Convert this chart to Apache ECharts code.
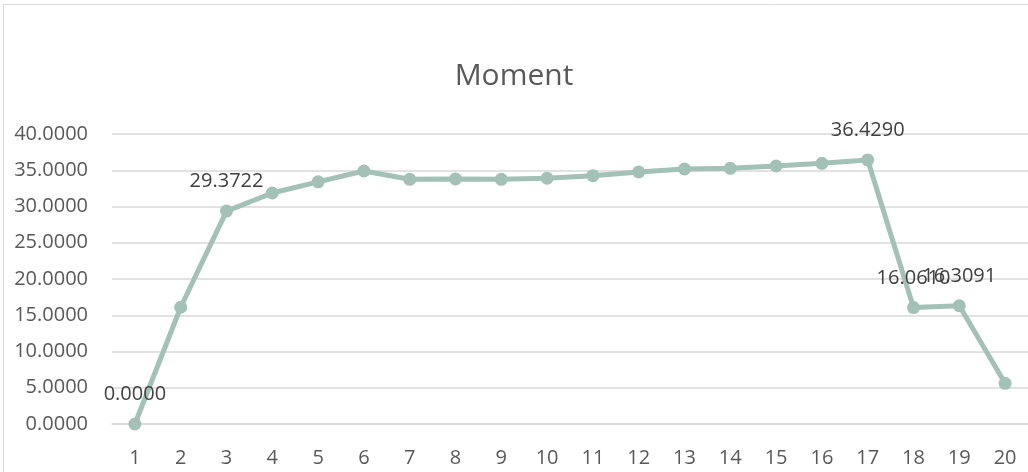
<!DOCTYPE html>
<html>
<head>
<meta charset="utf-8">
<script src="https://cdn.jsdelivr.net/npm/echarts@6/dist/echarts.min.js"></script>
<style>
  html, body { margin: 0; padding: 0; background: #fff; }
  #main { width: 1028px; height: 472px; }
</style>
</head>
<body>
<div id="main"></div>
<script>
var categories = ['1','2','3','4','5','6','7','8','9','10','11','12','13','14','15','16','17','18','19','20'];
var moment = [0.0000, 16.10, 29.3722, 31.86, 33.40, 34.90, 33.75, 33.80, 33.75, 33.90, 34.25, 34.76, 35.17, 35.26, 35.59, 35.95, 36.4290, 16.0610, 16.3091, 5.61];
var labelled = [0, 2, 16, 17, 18];
var yTicks = [0, 5, 10, 15, 20, 25, 30, 35, 40];

var myChart = echarts.init(document.getElementById('main'));

var seriesData = []
for (let i = 0; i < moment.length; i++) {
	seriesData.push({
		value: moment[i],
		label: { show: labelled.indexOf(i) >= 0 }
	})
}

var option = {
	backgroundColor: '#fff',
	animation: false,
	title: {
		text: 'Moment',
		left: 'center',
		top: 56,
		textStyle: {
			color: '#595959',
			fontFamily: 'Open Sans',
			fontSize: 30,
			fontWeight: 'normal'
		}
	},
	graphic: [{
		type: 'rect',
		shape: { x: 3.5, y: 4.5, width: 1100, height: 600 },
		style: { fill: 'none', stroke: '#d9d9d9', lineWidth: 1 },
		silent: true
	}],
	grid: {
		left: 112,
		right: -6,
		top: 134,
		bottom: 48
	},
	xAxis: {
		type: 'category',
		data: categories,
		boundaryGap: true,
		axisLine: { show: true, lineStyle: { color: '#d9d9d9', width: 1.5 } },
		axisTick: { show: false },
		axisLabel: {
			color: '#595959',
			fontFamily: 'Open Sans',
			fontSize: 20,
			margin: 24
		}
	},
	yAxis: {
		type: 'value',
		min: yTicks[0],
		max: yTicks[yTicks.length - 1],
		interval: 5,
		axisLine: { show: false },
		axisTick: { show: false },
		splitLine: { lineStyle: { color: '#d9d9d9', width: 1.5 } },
		axisLabel: {
			color: '#595959',
			fontFamily: 'Open Sans',
			fontSize: 20,
			margin: 24,
			formatter: function (v) { return v.toFixed(4) }
		}
	},
	series: [{
		name: 'Moment',
		type: 'line',
		data: seriesData,
		symbol: 'circle',
		symbolSize: 13,
		lineStyle: { color: '#a3c1b6', width: 5 },
		itemStyle: { color: '#a3c1b6' },
		label: {
			position: 'top',
			distance: 13,
			color: '#404040',
			fontFamily: 'Open Sans',
			fontSize: 20,
			formatter: function (p) { return p.value.toFixed(4) }
		}
	}]
};

myChart.setOption(option)
</script>
</body>
</html>
